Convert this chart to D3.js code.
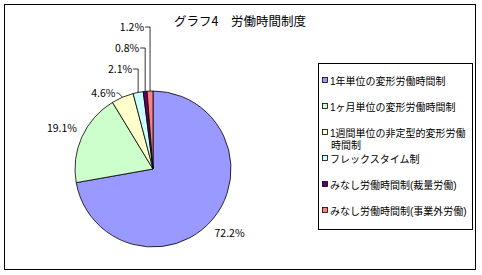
<!DOCTYPE html>
<html>
<head>
<meta charset="utf-8">
<script src="https://cdn.jsdelivr.net/npm/d3@7"></script>
<style>
    body { margin: 0; background: #fff; }
    svg text { font-family: "Noto Sans CJK JP", "Noto Sans", sans-serif; fill: #000; }
    svg text.legend { font-family: "Liberation Sans", "Noto Sans CJK JP", sans-serif; }
</style>
</head>
<body>
<svg id="chart" width="482" height="275"></svg>
<script>
    const categories = [
        "1年単位の変形労働時間制",
        "1ヶ月単位の変形労働時間制",
        "1週間単位の非定型的変形労働時間制",
        "フレックスタイム制",
        "みなし労働時間制(裁量労働)",
        "みなし労働時間制(事業外労働)"
    ];
    const values = [72.2, 19.1, 4.6, 2.1, 0.8, 1.2];
    const colors = ["#9999ff", "#ccffcc", "#ffffcc", "#ccffff", "#660066", "#ff8080"];
    // legend lines (third entry wraps like the original)
    const legendLines = [
        ["1年単位の変形労働時間制"],
        ["1ヶ月単位の変形労働時間制"],
        ["1週間単位の非定型的変形労働", "時間制"],
        ["フレックスタイム制"],
        ["みなし労働時間制(裁量労働)"],
        ["みなし労働時間制(事業外労働)"]
    ];
    const title = "グラフ4　労働時間制度";

    const svg = d3.select("#chart");
    const W = 482, H = 275;

    svg.append("rect").attr("width", W).attr("height", H).attr("fill", "#fff");
    svg.append("rect")
        .attr("x", 4.5).attr("y", 4.5).attr("width", 471).attr("height", 265)
        .attr("fill", "none").attr("stroke", "#000").attr("stroke-width", 1);

    svg.append("text")
        .attr("x", 240).attr("y", 26)
        .attr("text-anchor", "middle")
        .attr("font-size", 12.5)
        .text(title);

    const cx = 153, cy = 169, r = 78;
    const g = svg.append("g").attr("transform", `translate(${cx},${cy})`);

    const pie = d3.pie().sort(null).value(d => d);
    const arcs = pie(values);
    const arc = d3.arc().innerRadius(0).outerRadius(r);

    g.selectAll("path.slice")
        .data(arcs)
        .join("path")
        .attr("class", "slice")
        .attr("d", arc)
        .attr("fill", (d, i) => colors[i])
        .attr("stroke", "#000")
        .attr("stroke-width", 0.8);

    const fmt = d3.format(".1f");
    const labelArc = d3.arc().innerRadius(r * 1.28).outerRadius(r * 1.28);

    // big slices: label around the pie
    arcs.slice(0, 2).forEach((d, i) => {
        const [x, y] = labelArc.centroid(d);
        g.append("text")
            .attr("x", x).attr("y", y + 4)
            .attr("text-anchor", "middle")
            .attr("font-size", 10.5)
            .text(fmt(d.data) + "%");
    });

    // small slices: stacked above the pie with leader lines
    arcs.slice(2).forEach((d, j) => {
        const mid = (d.startAngle + d.endAngle) / 2;
        const ax = r * Math.sin(mid), ay = -r * Math.cos(mid);
        const ly = -r + 2 - 21 * j - (j === 0 ? 0 : 3);
        const lx = ax - 6 - (j === 0 ? 1 : 0);
        g.append("text")
            .attr("x", lx).attr("y", ly + 4)
            .attr("text-anchor", "end")
            .attr("font-size", 10.5)
            .text(fmt(d.data) + "%");
        const pts = j === 0
            ? [[lx + 1, ly], [lx + 3, ly], [ax, ay]]
            : [[lx + 1, ly], [ax, ly], [ax, ay]];
        g.append("path")
            .attr("d", d3.line()(pts))
            .attr("fill", "none")
            .attr("stroke", "#000")
            .attr("stroke-width", 0.8);
    });

    // legend
    const lg = svg.append("g");
    lg.append("rect")
        .attr("x", 318.5).attr("y", 63.5).attr("width", 154).attr("height", 166)
        .attr("fill", "#fff").attr("stroke", "#000").attr("stroke-width", 1);

    const rowY = d3.scaleLinear().domain([0, 5]).range([81, 211]);
    legendLines.forEach((lines, i) => {
        const y = rowY(i);
        lg.append("rect")
            .attr("x", 322.5).attr("y", y - 3.5).attr("width", 5).attr("height", 5)
            .attr("fill", colors[i]).attr("stroke", "#000").attr("stroke-width", 0.8);
        lines.forEach((s, k) => {
            lg.append("text")
                .attr("class", "legend")
                .attr("x", 330 + k)
                .attr("y", y + 4 + k * 12)
                .attr("font-size", 10)
                .text(s);
        });
    });
</script>
</body>
</html>
